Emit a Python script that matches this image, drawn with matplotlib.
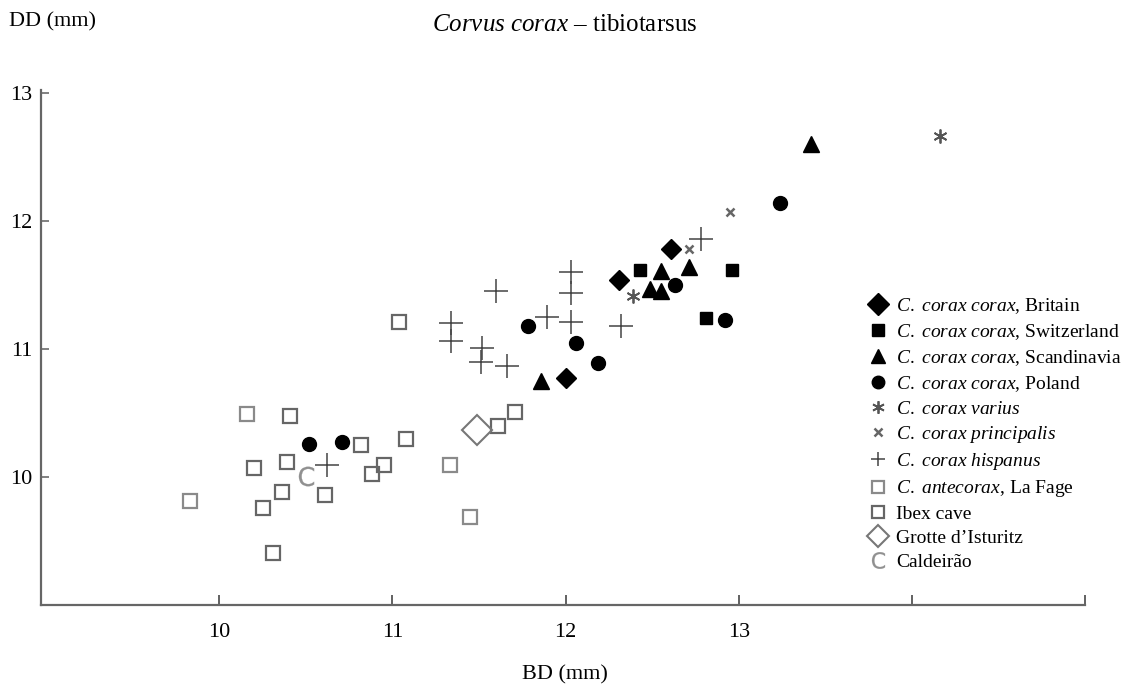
import matplotlib
matplotlib.use("Agg")
import matplotlib.pyplot as plt

plt.rcParams['font.family'] = ['Liberation Serif', 'DejaVu Serif']
plt.rcParams['mathtext.fontset'] = 'custom'
plt.rcParams['mathtext.rm'] = 'Liberation Serif'
plt.rcParams['mathtext.it'] = 'Liberation Serif:italic'
plt.rcParams['mathtext.sf'] = 'DejaVu Sans'

# ---------------- data (BD, DD in mm) ----------------
britain_bd = [12.00, 12.31, 12.61]
britain_dd = [10.77, 11.54, 11.78]

switz_bd = [12.43, 12.96, 12.81]
switz_dd = [11.62, 11.62, 11.24]

scand_bd = [11.86, 12.55, 12.71, 12.55, 12.49, 13.42]
scand_dd = [10.75, 11.61, 11.64, 11.45, 11.47, 12.60]

poland_bd = [10.52, 10.71, 11.78, 12.06, 12.19, 12.63, 12.92, 13.24]
poland_dd = [10.26, 10.27, 11.18, 11.05, 10.89, 11.50, 11.23, 12.14]

varius_bd = [12.39, 14.16]
varius_dd = [11.41, 12.66]

princ_bd = [12.71, 12.95]
princ_dd = [11.78, 12.07]

hisp_bd = [12.03, 12.03, 12.03, 11.60, 11.34, 11.34, 11.89, 11.52, 11.51, 11.66, 12.32, 12.78, 10.62]
hisp_dd = [11.60, 11.44, 11.21, 11.45, 11.20, 11.06, 11.25, 11.01, 10.90, 10.87, 11.18, 11.86, 10.09]

lafage_bd = [10.16, 9.83, 11.33, 11.45]
lafage_dd = [10.49, 9.81, 10.09, 9.69]

ibex_bd = [10.41, 10.82, 11.08, 10.39, 10.20, 10.95, 10.88, 10.36, 10.25, 10.61, 10.31, 11.04, 11.61, 11.71]
ibex_dd = [10.48, 10.25, 10.30, 10.12, 10.07, 10.09, 10.02, 9.88, 9.76, 9.86, 9.41, 11.21, 10.40, 10.51]

isturitz_bd = [11.49]
isturitz_dd = [10.37]

caldeirao_bd = [10.50]
caldeirao_dd = [10.01]

x_ticks = [10, 11, 12, 13, 14, 15]
x_ticklabels = ['10', '11', '12', '13', '', '']
y_ticks = [10, 11, 12, 13]
y_ticklabels = ['10', '11', '12', '13']

labels = [
    r'$\it{C.\ corax\ corax}$, Britain',
    r'$\it{C.\ corax\ corax}$, Switzerland',
    r'$\it{C.\ corax\ corax}$, Scandinavia',
    r'$\it{C.\ corax\ corax}$, Poland',
    r'$\it{C.\ corax\ varius}$',
    r'$\it{C.\ corax\ principalis}$',
    r'$\it{C.\ corax\ hispanus}$',
    r'$\it{C.\ antecorax}$, La Fage',
    'Ibex cave',
    'Grotte d\u2019Isturitz',
    'Caldeir\u00e3o',
]

# ---------------- figure ----------------
fig = plt.figure(figsize=(11.28, 6.85), dpi=100)
ax = fig.add_axes([41/1128, 1-605/685, (1085-41)/1128, (605-90.4)/685])

styles = [
    (britain_bd, britain_dd, dict(marker='D', ms=10, color='black', mec='black', ls='none')),
    (switz_bd, switz_dd, dict(marker='s', ms=9, color='black', mec='black', ls='none')),
    (scand_bd, scand_dd, dict(marker='^', ms=11, color='black', mec='black', ls='none')),
    (poland_bd, poland_dd, dict(marker='o', ms=10, color='black', mec='black', ls='none')),
    (varius_bd, varius_dd, dict(marker=(6, 2, 0), ms=10, color='#555555', mew=1.3, ls='none')),
    (princ_bd, princ_dd, dict(marker='x', ms=6, color='#666666', mew=1.8, ls='none')),
    (hisp_bd, hisp_dd, dict(marker='+', ms=17, color='#444444', mew=1.1, ls='none')),
    (lafage_bd, lafage_dd, dict(marker='s', ms=10, mfc='none', mec='#8a8a8a', mew=1.6, ls='none')),
    (ibex_bd, ibex_dd, dict(marker='s', ms=10, mfc='none', mec='#666666', mew=1.6, ls='none')),
    (isturitz_bd, isturitz_dd, dict(marker='D', ms=15, mfc='none', mec='#777777', mew=1.5, ls='none')),
    (caldeirao_bd, caldeirao_dd, dict(marker=r'$\mathsf{C}$', ms=14, color='#909090', mew=0.2, ls='none')),
]
legend_ms = [11, 8, 10, 9, 9, 6, 10, 9, 9, 11, 12]

handles = []
for (bx, dy, st), lab in zip(styles, labels):
    h, = ax.plot(bx, dy, label=lab, zorder=3, **st)
    handles.append(h)

ax.set_xlim(8.97, 15.0)
ax.set_ylim(9.0, 13.02)

for s in ['top', 'right']:
    ax.spines[s].set_visible(False)
for s in ['left', 'bottom']:
    ax.spines[s].set_color('#666666')
    ax.spines[s].set_linewidth(1.6)

ax.set_xticks(x_ticks)
ax.set_xticklabels(x_ticklabels, fontsize=16)
ax.set_yticks(y_ticks)
ax.set_yticklabels(y_ticklabels, fontsize=16)
ax.tick_params(axis='x', direction='in', length=7, width=1.3, color='#555555', pad=13)
ax.tick_params(axis='y', direction='in', length=6, width=1.3, color='#777777', pad=6)

leg = ax.legend(handles=handles, loc='upper left', bbox_to_anchor=(868/1128, 1-296/685),
                bbox_transform=fig.transFigure, frameon=False, fontsize=14,
                labelspacing=0.32, handlelength=1.0, handletextpad=0.45, borderpad=0,
                borderaxespad=0, numpoints=1)
for lh, m in zip(leg.legend_handles, legend_ms):
    lh.set_markersize(m)

fig.text(565/1128, 1-25/685, r'$\it{Corvus\ corax}$' + ' \u2013 tibiotarsus',
         ha='center', va='center', fontsize=18)
fig.text(9/1128, 1-22/685, 'DD (mm)', ha='left', va='center', fontsize=16)
fig.text(565/1128, 1-675/685, 'BD (mm)', ha='center', va='center', fontsize=16)

fig.savefig('out.png', dpi=100)
